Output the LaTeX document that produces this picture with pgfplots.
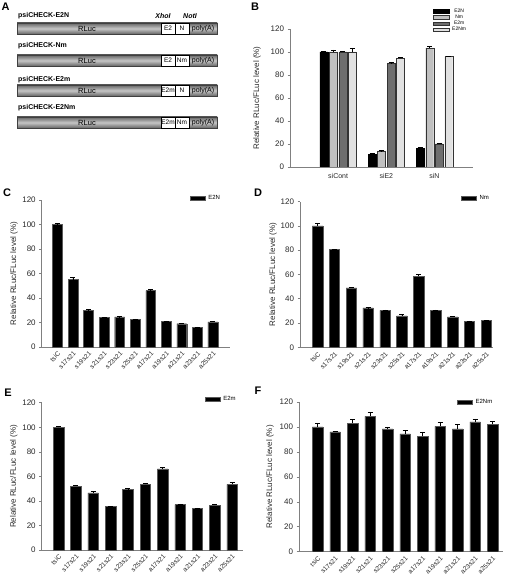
\documentclass[border=0pt]{standalone}
\usepackage{fontspec}
\setmainfont{Liberation Sans}
\usepackage{pgfplots}
\pgfplotsset{compat=1.18}
\definecolor{axgray}{RGB}{128,128,128}
\definecolor{nmgray}{RGB}{192,192,192}
\definecolor{e2mgray}{RGB}{110,110,110}
\definecolor{e2nmgray}{RGB}{225,225,225}
\definecolor{txt}{RGB}{40,40,40}
\pgfplotsset{
  panel/.style={
    scale only axis,
    axis lines*=left,
    axis line style={draw=axgray, line width=0.8pt},
    ymin=0, ymax=120, ytick={0,20,...,120},
    ytick style={draw=axgray, line width=0.6pt},
    tick align=outside, major tick length=2.5pt,
    xtick style={draw=none},
    tick label style={font=\fontsize{8}{9}\selectfont, text=txt},
    /pgf/number format/assume math mode=true,
    ylabel={Relative RLuc/FLuc level (\%)},
    ylabel style={font=\fontsize{8}{9}\selectfont, anchor=center, text=txt},
    legend style={draw=none, fill=none, font=\fontsize{6}{6}\selectfont, anchor=north west, inner sep=0pt, nodes={inner sep=1pt},
      /tikz/every odd column/.append style={column sep=2pt}},
    ybar,
    legend image code/.code={\draw[##1] (0pt,-2pt) rectangle (15pt,2pt);},
  },
  single/.style={
    xtick=data,
    xticklabels={tsiC,s17s21,s19s21,s21s21,s23s21,s25s21,a17s21,a19s21,a21s21,a23s21,a25s21},
    x tick label style={rotate=45, anchor=north east, font=\fontsize{6.5}{7}\selectfont, inner sep=1pt},
    bar width=10.5pt,
  },
  eb/.style={
    /pgfplots/error bars/y dir=plus,
    /pgfplots/error bars/y explicit,
    /pgfplots/error bars/error bar style={line width=0.6pt, black},
    /pgfplots/error bars/error mark options={rotate=90, mark size=2.5pt, line width=0.6pt, black},
  },
  blk/.style={fill=black, draw=gray!70!black, line width=0.4pt, eb},
}
\begin{document}
\begin{tikzpicture}[x=1pt,y=1pt]
\useasboundingbox (0,0) rectangle (510,-580);
\coordinate (pB) at (290,-167);
\coordinate (pC) at (41.7,-347);
\coordinate (pD) at (300,-347.3);
\coordinate (pE) at (41.7,-550);
\coordinate (pF) at (299,-551.7);

% ---------- Panel A (schematic) ----------
\tikzset{cbar/.style={draw=gray!50!black, line width=0.5pt, top color=gray!80!black, bottom color=gray!80!black, middle color=gray!45}}
\foreach \ly/\bt/\bb/\ta/\tb/\nm in {16/23/34/E2/N/psiCHECK-E2N, 46/55/66/E2/Nm/psiCHECK-Nm, 80/85/96/E2m/N/psiCHECK-E2m, 108/117/128/E2m/Nm/psiCHECK-E2Nm}{
  \node[anchor=west, font=\fontsize{7}{8}\bfseries\selectfont, inner sep=0pt] at (18,-\ly) {\nm};
  \shade[cbar] (17,-\bt) rectangle (217,-\bb);
  \draw[cbar] (17,-\bt) rectangle (217,-\bb);
  \draw[fill=white, draw=black, line width=0.5pt] (161,-\bt) rectangle (175,-\bb);
  \draw[fill=white, draw=black, line width=0.5pt] (175,-\bt) rectangle (189,-\bb);
  \node[font=\fontsize{6.5}{7}\selectfont, inner sep=0pt] at (168,{-(\bt+\bb)/2}) {\ta};
  \node[font=\fontsize{6.5}{7}\selectfont, inner sep=0pt] at (182,{-(\bt+\bb)/2}) {\tb};
  \node[font=\fontsize{7}{8}\selectfont, inner sep=0pt] at (203,{-(\bt+\bb)/2}) {poly(A)};
  \node[font=\fontsize{7.5}{8}\selectfont, inner sep=0pt] at (87,{-(\bt+\bb)/2}) {RLuc};
}
\node[font=\fontsize{7}{8}\bfseries\itshape\selectfont, inner sep=0pt] at (163,-16) {XhoI};
\node[font=\fontsize{7}{8}\bfseries\itshape\selectfont, inner sep=0pt] at (190,-16) {NotI};

\node[font=\fontsize{11}{12}\bfseries\selectfont] at (5.5,-6.5) {A};
\node[font=\fontsize{11}{12}\bfseries\selectfont] at (255,-6.5) {B};
\node[font=\fontsize{11}{12}\bfseries\selectfont] at (7,-193) {C};
\node[font=\fontsize{11}{12}\bfseries\selectfont] at (258,-193) {D};
\node[font=\fontsize{11}{12}\bfseries\selectfont] at (8,-393) {E};
\node[font=\fontsize{11}{12}\bfseries\selectfont] at (258,-391) {F};

% ---------- Panel B ----------
\begin{axis}[panel, at={(pB)}, anchor=south west, width=183pt, height=138pt,
  xmin=-1, xmax=2.8, xtick={0,1,2}, xticklabels={siCont,siE2,siN},
  x tick label style={font=\fontsize{7}{8}\selectfont},
  ybar=1.5pt, bar width=8pt,
  ylabel style={at={(axis description cs:-0.18,0.5)}},
  legend style={at={(143pt,159pt)}, font=\fontsize{5}{5}\selectfont, nodes={inner sep=0.6pt}},
  legend image code/.code={\draw[#1] (0pt,-1.8pt) rectangle (16pt,1.8pt);},
]
\addplot[fill=black, draw=black, line width=0.4pt, eb] table[x=x,y=y,y error=e]{
x y e
0 100 0.8
1 11.3 0.4
2 16.5 0.6
};
\addplot[fill=nmgray, draw=gray!40!black, line width=0.4pt, eb] table[x=x,y=y,y error=e]{
x y e
0 100 1.8
1 14 0.3
2 103.5 1.2
};
\addplot[fill=e2mgray, draw=gray!40!black, line width=0.4pt, eb] table[x=x,y=y,y error=e]{
x y e
0 100 0.8
1 90 0.8
2 20 0.6
};
\addplot[fill=e2nmgray, draw=gray!40!black, line width=0.4pt, eb] table[x=x,y=y,y error=e]{
x y e
0 100 3.5
1 94.5 0.8
2 96 0.5
};
\legend{E2N,Nm,E2m,E2Nm}
\end{axis}

% ---------- Panel C ----------
\begin{axis}[panel, single, at={(pC)}, anchor=south west, width=188.3pt, height=147pt,
  xmin=-1.01, xmax=11.1, bar width=9.8pt,
  ylabel style={at={(axis description cs:-0.147,0.5)}},
  legend style={at={(148pt,153pt)}},
]
\addplot[blk] table[x=x,y=y,y error=e]{
x y e
0 100 1
1 55 1.5
2 30 0.6
3 24 0.4
4 24.5 0.4
5 22.5 0.5
6 46 1
7 21 0.3
8 19 0.3
9 16 0.4
10 20.5 0.4
};
\legend{E2N}
\end{axis}

% ---------- Panel D ----------
\begin{axis}[panel, single, at={(pD)}, anchor=south west, width=193pt, height=145.6pt,
  xmin=-1.04, xmax=10.4,
  ylabel style={at={(axis description cs:-0.14,0.5)}},
  legend style={at={(161pt,153.3pt)}},
]
\addplot[blk] table[x=x,y=y,y error=e]{
x y e
0 100 2
1 80.5 0.3
2 49 0.5
3 32.5 0.3
4 30.5 0.3
5 26 1
6 58.5 1.5
7 30.5 0.3
8 25 0.5
9 21.5 0.3
10 22 0.3
};
\legend{Nm}
\end{axis}

% ---------- Panel E ----------
\begin{axis}[panel, single, at={(pE)}, anchor=south west, width=201.3pt, height=147.3pt,
  xmin=-0.97, xmax=10.63,
  ylabel style={at={(axis description cs:-0.138,0.5)}},
  legend style={at={(163pt,155pt)}},
]
\addplot[blk] table[x=x,y=y,y error=e]{
x y e
0 100 0.8
1 52 1
2 46.5 1
3 35.5 0.3
4 49.5 0.5
5 53.5 1
6 66 1
7 37 0.5
8 34 0.3
9 36.5 1
10 53.5 1.5
};
\legend{E2m}
\end{axis}

% ---------- Panel F ----------
\begin{axis}[panel, single, at={(pF)}, anchor=south west, width=204pt, height=149.7pt,
  xmin=-1.06, xmax=10.6,
  ylabel style={at={(axis description cs:-0.142,0.5)}},
  legend style={at={(158pt,153.7pt)}},
]
\addplot[blk] table[x=x,y=y,y error=e]{
x y e
0 100 3
1 96 0.5
2 103 3
3 108.5 3
4 98.5 1.5
5 94.5 3
6 92.5 3.5
7 100.5 3
8 98.5 3.5
9 104 2.5
10 102 2.5
};
\legend{E2Nm}
\end{axis}
\end{tikzpicture}
\end{document}
